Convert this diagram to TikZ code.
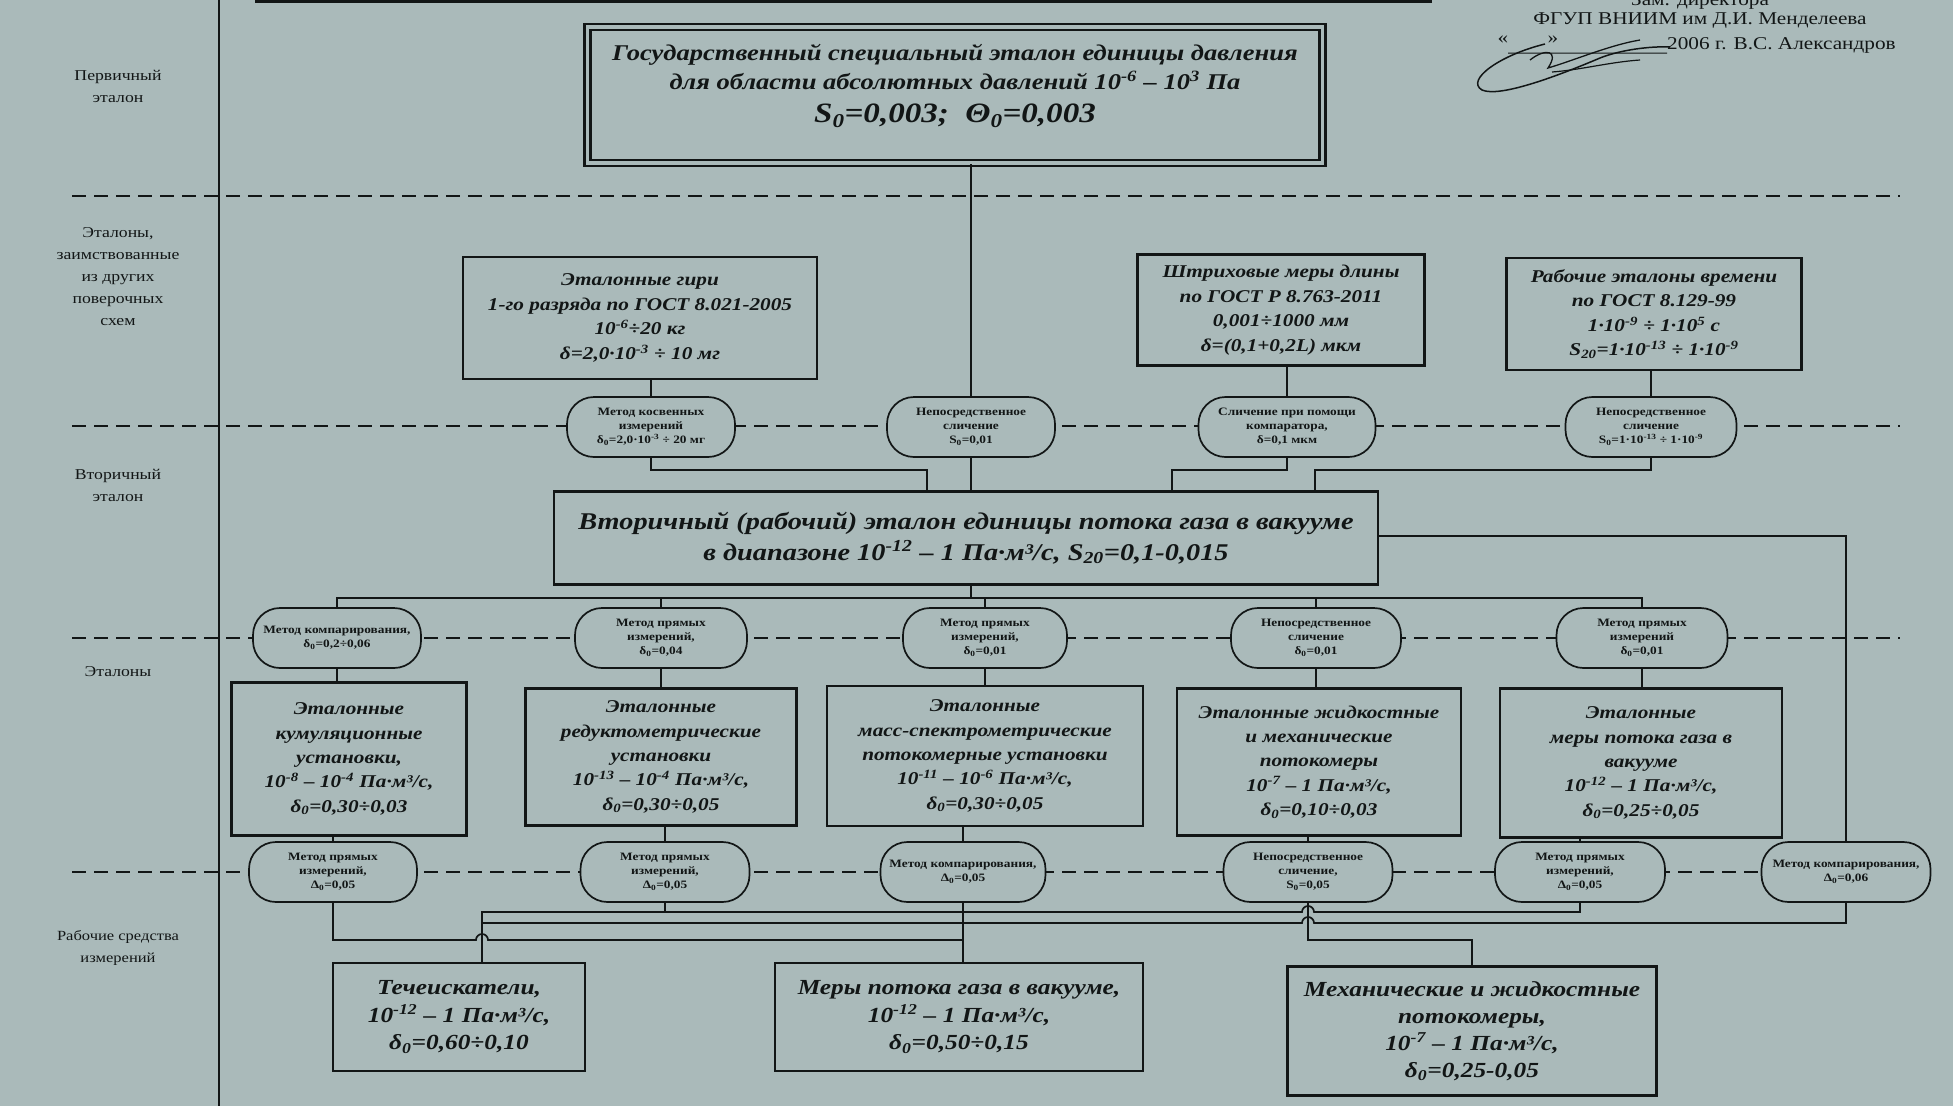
\documentclass[tikz,border=0pt]{standalone}
\usepackage{fontspec}
\setmainfont{Liberation Serif}
\newfontfamily\wfont[FakeStretch=1.18]{Liberation Serif}
\usetikzlibrary{calc}
\definecolor{bg}{RGB}{170,186,186}
\definecolor{ink}{RGB}{18,22,22}
\newcommand\myup[1]{\textsuperscript{#1}}
\newcommand\mydn[1]{\textsubscript{#1}}
\begin{document}
\begin{tikzpicture}[x=1pt,y=-1pt,
  box/.style={draw=ink, line width=2.3pt, align=center, inner sep=0pt, text=ink},
  bi/.style n args={2}{font=\wfont\bfseries\itshape\fontsize{#1}{#2}\selectfont},
  oval/.style={draw=ink, line width=1.7pt, fill=bg, rounded corners=27pt, align=center, inner sep=0pt, text=ink,
     minimum height=60pt, font=\wfont\bfseries\fontsize{11.3}{14}\selectfont},
  lbl/.style={align=center, text=ink, font=\wfont\fontsize{15}{22}\selectfont},
  hdr/.style={align=center, text=ink, font=\wfont\fontsize{18}{21}\selectfont, inner sep=0pt},
  conn/.style={draw=ink, line width=1.7pt},
  dashline/.style={draw=ink, line width=2.7pt, dash pattern=on 14pt off 8pt}]
\fill[bg] (0,0) rectangle (1953,1106);
\useasboundingbox (0,0) rectangle (1953,1106);

% top cut line and left rule
\draw[ink, line width=3pt] (255,1.5) -- (1432,1.5);
\draw[ink, line width=2pt] (219,0) -- (219,1106);

% dashed level lines
\draw[dashline] (72,196) -- (1900,196);
\draw[dashline] (72,426) -- (1900,426);
\draw[dashline] (72,638) -- (1900,638);
\draw[dashline] (72,872) -- (1900,872);

% header (approval)
\node[hdr] (h0) at (1700,1) {Зам. директора};
\node[hdr] (h1) at (1700,21) {ФГУП ВНИИМ им Д.И. Менделеева};
\node[hdr, anchor=west] (h2) at (1667,45) {2006 г. В.С. Александров};
\node[hdr] (q1) at (1503,40) {«};
\node[hdr] (q2) at (1553,40) {»};
\draw[ink, line width=1pt] (1508,53) -- (h2.south west);
\draw[ink, line width=1.5pt] (1545,44) .. controls (1500,55) and (1465,80) .. (1482,90)
   .. controls (1500,98) and (1560,75) .. (1600,58) .. controls (1620,50) and (1650,46) .. (1670,47);
\draw[ink, line width=1.3pt] (1530,60) .. controls (1545,48) and (1560,50) .. (1548,68)
   .. controls (1575,60) and (1610,45) .. (1640,40);
\draw[ink, line width=1.2pt] (1552,72) .. controls (1580,70) and (1610,62) .. (1640,60);

% left column labels
\node[lbl] (L1) at (118,86) {Первичный\\эталон};
\node[lbl] (L2) at (118,277) {Эталоны,\\заимствованные\\из других\\поверочных\\схем};
\node[lbl] (L3) at (118,485) {Вторичный\\эталон};
\node[lbl] (L4) at (118,672) {Эталоны};
\node[lbl, font=\wfont\fontsize{14}{22}\selectfont] (L5) at (118,948) {Рабочие средства\\измерений};

% primary standard
\node[box, double=bg, double distance=3.5pt, minimum width=735pt, minimum height=136pt] (P) at (955,95) {};
\node[align=center, text=ink, inner sep=0pt, bi={22.5}{28.5}] (Pt) at (955,86)
  {Государственный специальный эталон единицы давления\\
   для области абсолютных давлений 10\myup{-6} – 10\myup{3} Па\\[5pt]
   {\fontsize{28}{30}\selectfont S\mydn{0}=0,003;\ \ Θ\mydn{0}=0,003}};

% borrowed standards
\node[box, bi={18}{24.5}, minimum width=354pt, minimum height=122pt] (A) at (640,318)
  {Эталонные гири\\1-го разряда по ГОСТ 8.021-2005\\10\myup{-6}÷20 кг\\δ=2,0·10\myup{-3} ÷ 10 мг};
\node[box, bi={18}{24.5}, minimum width=287pt, minimum height=111pt] (B) at (1281,310)
  {Штриховые меры длины\\по ГОСТ Р 8.763-2011\\0,001÷1000 мм\\δ=(0,1+0,2L) мкм};
\node[box, bi={18}{24.5}, minimum width=295pt, minimum height=112pt] (C) at (1654,314)
  {Рабочие эталоны времени\\по ГОСТ 8.129-99\\1·10\myup{-9} ÷ 1·10\myup{5} с\\S\mydn{20}=1·10\myup{-13} ÷ 1·10\myup{-9}};

% transfer methods, level 1
\node[oval, minimum width=168pt] (E1) at (651,427) {Метод косвенных\\измерений\\δ\mydn{0}=2,0·10\myup{-3} ÷ 20 мг};
\node[oval, minimum width=168pt] (E2) at (971,427) {Непосредственное\\сличение\\S\mydn{0}=0,01};
\node[oval, minimum width=177pt] (E3) at (1287,427) {Сличение при помощи\\компаратора,\\δ=0,1 мкм};
\node[oval, minimum width=171pt] (E4) at (1651,427) {Непосредственное\\сличение\\S\mydn{0}=1·10\myup{-13} ÷ 1·10\myup{-9}};

% secondary standard
\node[box, bi={24}{31}, minimum width=824pt, minimum height=93pt] (S) at (966,538)
  {Вторичный (рабочий) эталон единицы потока газа в вакууме\\
   в диапазоне 10\myup{-12} – 1 Па·м³/с, S\mydn{20}=0,1-0,015};

% transfer methods, level 2
\node[oval, minimum width=168pt] (F1) at (337,638) {Метод компарирования,\\δ\mydn{0}=0,2÷0,06};
\node[oval, minimum width=172pt] (F2) at (661,638) {Метод прямых\\измерений,\\δ\mydn{0}=0,04};
\node[oval, minimum width=164pt] (F3) at (985,638) {Метод прямых\\измерений,\\δ\mydn{0}=0,01};
\node[oval, minimum width=170pt] (F4) at (1316,638) {Непосредственное\\сличение\\δ\mydn{0}=0,01};
\node[oval, minimum width=171pt] (F5) at (1642,638) {Метод прямых\\измерений\\δ\mydn{0}=0,01};

% working standards
\node[box, bi={18}{24.3}, minimum width=235pt, minimum height=153pt] (G1) at (349,759)
  {Эталонные\\кумуляционные\\установки,\\10\myup{-8} – 10\myup{-4} Па·м³/с,\\δ\mydn{0}=0,30÷0,03};
\node[box, bi={18}{24.3}, minimum width=271pt, minimum height=137pt] (G2) at (661,757)
  {Эталонные\\редуктометрические\\установки\\10\myup{-13} – 10\myup{-4} Па·м³/с,\\δ\mydn{0}=0,30÷0,05};
\node[box, bi={18}{24.3}, minimum width=316pt, minimum height=140pt] (G3) at (985,756)
  {Эталонные\\масс-спектрометрические\\потокомерные установки\\10\myup{-11} – 10\myup{-6} Па·м³/с,\\δ\mydn{0}=0,30÷0,05};
\node[box, bi={18}{24.3}, minimum width=284pt, minimum height=147pt] (G4) at (1319,762)
  {Эталонные жидкостные\\и механические\\потокомеры\\10\myup{-7} – 1 Па·м³/с,\\δ\mydn{0}=0,10÷0,03};
\node[box, bi={18}{24.3}, minimum width=282pt, minimum height=149pt] (G5) at (1641,763)
  {Эталонные\\меры потока газа в\\вакууме\\10\myup{-12} – 1 Па·м³/с,\\δ\mydn{0}=0,25÷0,05};

% transfer methods, level 3
\node[oval, minimum width=168pt] (H1) at (333,872) {Метод прямых\\измерений,\\Δ\mydn{0}=0,05};
\node[oval, minimum width=169pt] (H2) at (665,872) {Метод прямых\\измерений,\\Δ\mydn{0}=0,05};
\node[oval, minimum width=165pt] (H3) at (963,872) {Метод компарирования,\\Δ\mydn{0}=0,05};
\node[oval, minimum width=169pt] (H4) at (1308,872) {Непосредственное\\сличение,\\S\mydn{0}=0,05};
\node[oval, minimum width=170pt] (H5) at (1580,872) {Метод прямых\\измерений,\\Δ\mydn{0}=0,05};
\node[oval, minimum width=169pt] (H6) at (1846,872) {Метод компарирования,\\Δ\mydn{0}=0,06};

% working measuring instruments
\node[box, bi={21.5}{27.5}, minimum width=252pt, minimum height=108pt] (K1) at (459,1017)
  {Течеискатели,\\10\myup{-12} – 1 Па·м³/с,\\δ\mydn{0}=0,60÷0,10};
\node[box, bi={21.5}{27.5}, minimum width=368pt, minimum height=108pt] (K2) at (959,1017)
  {Меры потока газа в вакууме,\\10\myup{-12} – 1 Па·м³/с,\\δ\mydn{0}=0,50÷0,15};
\node[box, bi={21.5}{27}, minimum width=369pt, minimum height=129pt] (K3) at (1472,1031)
  {Механические и жидкостные\\потокомеры,\\10\myup{-7} – 1 Па·м³/с,\\δ\mydn{0}=0,25-0,05};

% ---- connectors ----
\draw[conn] (E2.north |- P.south) -- (E2.north);
\draw[conn] (E1.north |- A.south) -- (E1.north);
\draw[conn] (E3.north |- B.south) -- (E3.north);
\draw[conn] (E4.north |- C.south) -- (E4.north);

\coordinate (s1) at (927,470);
\coordinate (s3) at (1172,470);
\coordinate (s4) at (1315,470);
\draw[conn] (E1.south) |- (s1) -- (s1 |- S.north);
\draw[conn] (E2.south) -- (E2.south |- S.north);
\draw[conn] (E3.south) |- (s3) -- (s3 |- S.north);
\draw[conn] (E4.south) |- (s4) -- (s4 |- S.north);

\coordinate (s5) at (1846,536);
\draw[conn] (S.east |- s5) -- (s5) -- (H6.north);

\coordinate (t) at (971,598);
\draw[conn] (S.south -| t) -- (t);
\draw[conn] (F1.north) -- (F1.north |- t) -- (F5.north |- t) -- (F5.north);
\draw[conn] (F2.north) -- (F2.north |- t);
\draw[conn] (F3.north) -- (F3.north |- t);
\draw[conn] (F4.north) -- (F4.north |- t);

\draw[conn] (F1.south) -- (F1.south |- G1.north);
\draw[conn] (F2.south) -- (F2.south |- G2.north);
\draw[conn] (F3.south) -- (F3.south |- G3.north);
\draw[conn] (F4.south) -- (F4.south |- G4.north);
\draw[conn] (F5.south) -- (F5.south |- G5.north);

\draw[conn] (H1.north |- G1.south) -- (H1.north);
\draw[conn] (H2.north |- G2.south) -- (H2.north);
\draw[conn] (H3.north |- G3.south) -- (H3.north);
\draw[conn] (H4.north |- G4.south) -- (H4.north);
\draw[conn] (H5.north |- G5.south) -- (H5.north);

% bottom routing
\coordinate (ja) at (482,912);
\coordinate (jb) at (482,923);
\coordinate (yc) at (0,940);
\draw[conn] (ja |- K1.north) -- (ja) -- ($(H4.south |- ja)+(-6pt,0)$)
   arc[start angle=180, end angle=0, radius=6pt] -- (H5.south |- ja) -- (H5.south);
\draw[conn] (jb) -- ($(H4.south |- jb)+(-6pt,0)$)
   arc[start angle=180, end angle=0, radius=6pt] -- (H6.south |- jb) -- (H6.south);
\draw[conn] (H2.south) -- (H2.south |- ja);
\draw[conn] (H1.south) -- (H1.south |- yc) -- ($(ja |- yc)+(-6pt,0)$)
   arc[start angle=180, end angle=0, radius=6pt] -- (H3.south |- yc);
\draw[conn] (H3.south) -- (H3.south |- K2.north);
\draw[conn] (H4.south) -- (H4.south |- yc) -- (K3.north |- yc) -- (K3.north);
\end{tikzpicture}
\end{document}
